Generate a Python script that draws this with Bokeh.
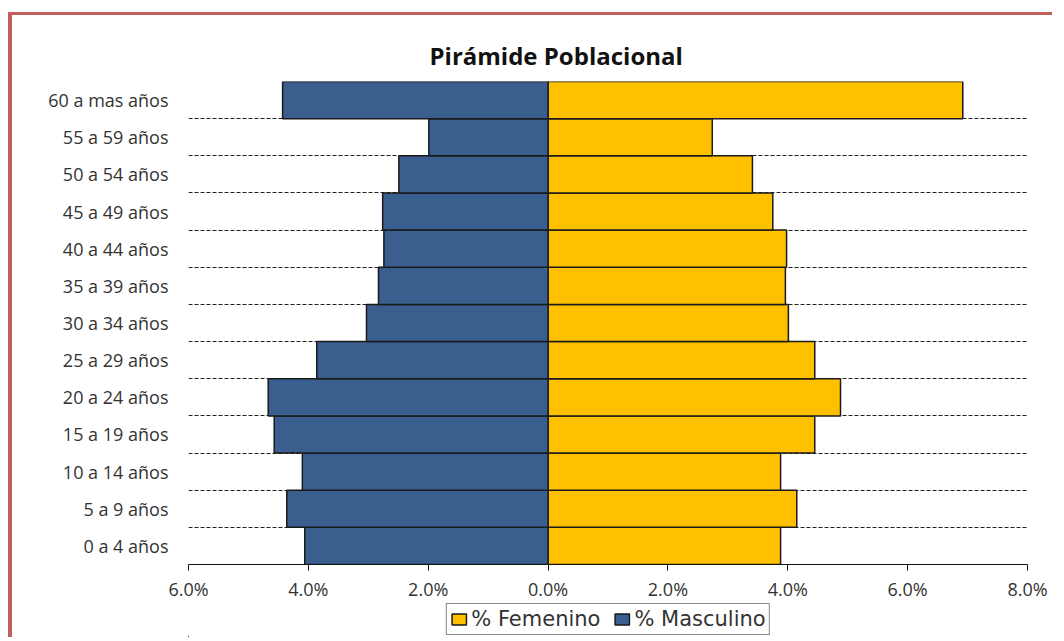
from bokeh.plotting import figure
from bokeh.layouts import column
from bokeh.models import ColumnDataSource, FixedTicker, Legend, LegendItem
from bokeh.embed import file_html
from bokeh.resources import INLINE

categories = ["0 a 4 años", "5 a 9 años", "10 a 14 años", "15 a 19 años", "20 a 24 años",
              "25 a 29 años", "30 a 34 años", "35 a 39 años", "40 a 44 años", "45 a 49 años",
              "50 a 54 años", "55 a 59 años", "60 a mas años"]
masculino = [4.06, 4.36, 4.10, 4.57, 4.67, 3.86, 3.03, 2.83, 2.74, 2.76, 2.49, 1.99, 4.43]
femenino = [3.88, 4.15, 3.88, 4.45, 4.88, 4.45, 4.01, 3.96, 3.98, 3.75, 3.41, 2.74, 6.92]
x_ticks = [-6, -4, -2, 0, 2, 4, 6, 8]
x_tick_labels = ["6.0%", "4.0%", "2.0%", "0.0%", "2.0%", "4.0%", "6.0%", "8.0%"]

FEM_COLOR = "#FFC000"
MASC_COLOR = "#3A5F8F"
EDGE = "#1a1a1a"
BORDER = "#c0605c"

idx = list(range(len(categories)))
src = ColumnDataSource(dict(
    y=idx,
    fem=femenino,
    masc_neg=[-v for v in masculino],
    zero=[0] * len(idx),
))

p = figure(width=1044, height=588, x_range=(-6, 8), y_range=(-0.5, len(categories) - 0.5),
           output_backend="svg", toolbar_location=None,
           min_border_left=176, min_border_right=29, min_border_top=66, min_border_bottom=38,
           styles={"margin-left": "8px", "margin-top": "12px",
                   "border-left": f"4px solid {BORDER}", "border-top": f"3px solid {BORDER}"})

p.background_fill_color = "white"
p.border_fill_color = "white"
p.outline_line_color = None

p.title.text = "Pirámide Poblacional"
p.title.align = "left"
p.title.offset = 241
p.title.text_font = "Open Sans"
p.title.text_font_size = "24px"
p.title.text_font_style = "bold"
p.title.text_color = "#111111"
p.title.standoff = 20

rf = p.hbar(y="y", left="zero", right="fem", height=1.0, source=src,
            fill_color=FEM_COLOR, line_color=EDGE, line_width=1.5)
rm = p.hbar(y="y", left="masc_neg", right="zero", height=1.0, source=src,
            fill_color=MASC_COLOR, line_color=EDGE, line_width=1.5)

# grid: dashed lines at the category boundaries
p.xgrid.visible = False
p.ygrid.ticker = FixedTicker(ticks=[i + 0.5 for i in range(-1, len(categories))])
p.ygrid.grid_line_color = "#222222"
p.ygrid.grid_line_dash = "4 2"
p.ygrid.grid_line_width = 1.2

# x axis
p.xaxis.ticker = FixedTicker(ticks=x_ticks)
p.xaxis.major_label_overrides = {t: l for t, l in zip(x_ticks, x_tick_labels)}
p.xaxis.axis_line_color = "#111111"
p.xaxis.axis_line_width = 1.2
p.xaxis.major_tick_line_color = "#111111"
p.xaxis.major_tick_out = 6
p.xaxis.major_tick_in = 0
p.xaxis.minor_tick_line_color = None
p.xaxis.major_label_text_font = "Open Sans"
p.xaxis.major_label_text_font_size = "18px"
p.xaxis.major_label_text_color = "#333333"
p.xaxis.major_label_standoff = 6

# y axis
p.yaxis.ticker = FixedTicker(ticks=idx)
p.yaxis.major_label_overrides = {i: c for i, c in zip(idx, categories)}
p.yaxis.axis_line_color = None
p.yaxis.major_tick_line_color = None
p.yaxis.minor_tick_line_color = None
p.yaxis.major_tick_out = 0
p.yaxis.major_tick_in = 0
p.yaxis.major_label_standoff = 20
p.yaxis.major_label_text_font = "Open Sans"
p.yaxis.major_label_text_font_size = "18px"
p.yaxis.major_label_text_color = "#333333"

# legend strip below the chart (same frame width as the chart); it reuses the
# chart's data source, placed outside this strip's visible range
lg = figure(width=1044, height=37, x_range=(50, 51), y_range=(50, 51),
            output_backend="svg", toolbar_location=None,
            x_axis_location=None, y_axis_location=None,
            min_border_left=176, min_border_right=29, min_border_top=0, min_border_bottom=0,
            styles={"margin-left": "8px", "border-left": f"4px solid {BORDER}"})
lg.outline_line_color = None
lg.grid.visible = False
lg.background_fill_color = "white"
lg.border_fill_color = "white"
lf = lg.hbar(y="y", left="zero", right="fem", height=1.0, source=src,
             fill_color=FEM_COLOR, line_color=EDGE, line_width=1.5)
lm = lg.hbar(y="y", left="masc_neg", right="zero", height=1.0, source=src,
             fill_color=MASC_COLOR, line_color=EDGE, line_width=1.5)

legend = Legend(items=[LegendItem(label="% Femenino", renderers=[lf]),
                       LegendItem(label="% Masculino", renderers=[lm])],
                orientation="horizontal", location="center")
legend.label_text_font = "DejaVu Sans"
legend.label_text_font_size = "21px"
legend.label_text_color = "#333333"
legend.border_line_color = "#111111"
legend.border_line_width = 1
legend.padding = 3
legend.margin = 0
legend.spacing = 12
legend.label_standoff = 4
legend.glyph_width = 18
legend.glyph_height = 14
legend.label_height = 20
legend.background_fill_alpha = 1
lg.add_layout(legend)

layout = column(p, lg, spacing=0)
open("out.html", "w").write(file_html(layout, INLINE))
